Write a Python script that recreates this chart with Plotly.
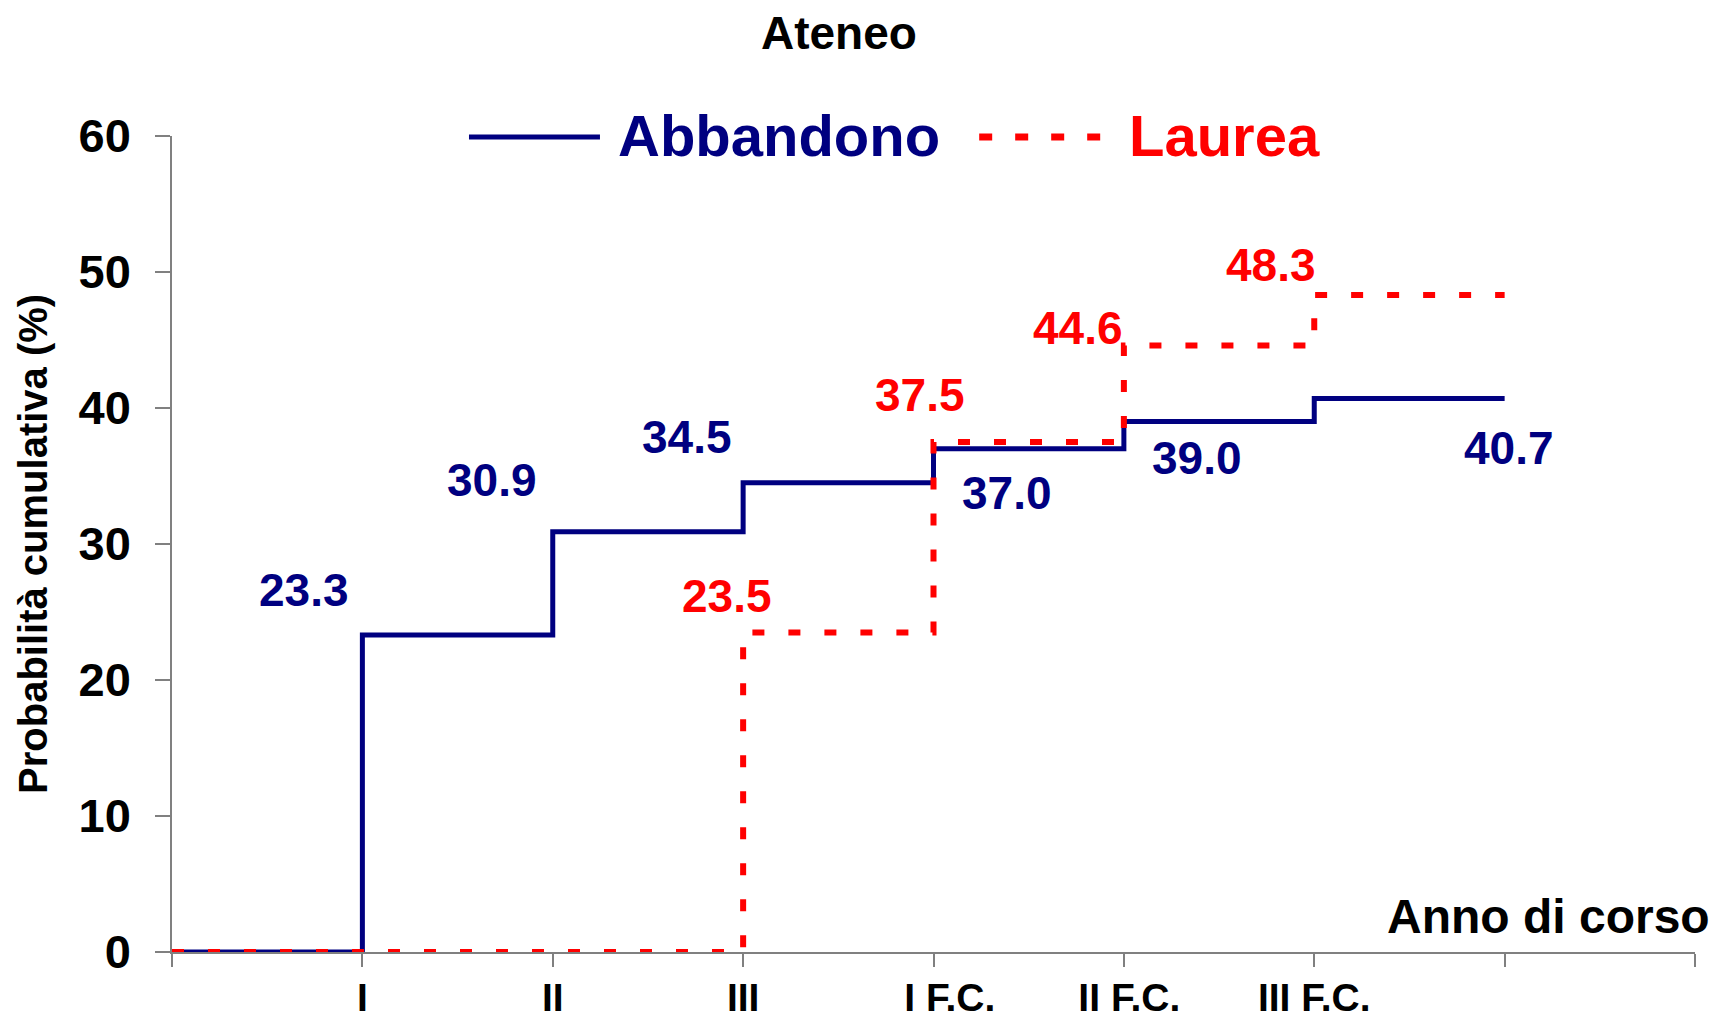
import plotly.graph_objs as go

# Data
anni = ["I", "II", "III", "\u00a0\u00a0\u00a0I F.C.", "\u00a0II F.C.", "III F.C."]
abbandono = [0, 23.3, 30.9, 34.5, 37.0, 39.0, 40.7]
laurea = [0, 0, 0, 23.5, 37.5, 44.6, 48.3]

BLUE = "#000080"
RED = "#FF0000"
FONT = "Liberation Sans, Arial, sans-serif"
AXIS = "#808080"

# step positions: value k holds from k to k+1
x_steps = list(range(len(abbandono) + 1))

# label offsets in px from the start of each step (skip first, it's 0)
abb_shift = [(-58, 45), (-61, 52), (-56, 46), (73, -44), (73, -36), (195, -50)]
lau_shift = [(-16, 36), (-14, 47), (-46, 17), (-43, 30)]

fig = go.Figure()

fig.add_trace(go.Scatter(
    x=x_steps,
    y=abbandono + [abbandono[-1]],
    mode="lines",
    line=dict(color=BLUE, width=5, shape="hv"),
    name="Abbandono",
))

fig.add_trace(go.Scatter(
    x=x_steps,
    y=laurea + [laurea[-1]],
    mode="lines",
    line=dict(color=RED, width=6, shape="hv", dash="12px,24px"),
    name="Laurea",
))

# value labels
for i, (v, (dx, dy)) in enumerate(zip(abbandono[1:], abb_shift), start=1):
    fig.add_annotation(x=i, y=v, text=f"{v:.1f}", showarrow=False,
                       xshift=dx, yshift=dy,
                       font=dict(family=FONT, size=46, color=BLUE, weight="bold"))

lau_vals = [v for v in laurea if v > 0]
first = len(laurea) - len(lau_vals)
for i, (v, (dx, dy)) in enumerate(zip(lau_vals, lau_shift), start=first):
    fig.add_annotation(x=i, y=v, text=f"{v:.1f}", showarrow=False,
                       xshift=dx, yshift=dy,
                       font=dict(family=FONT, size=46, color=RED, weight="bold"))

# hand-made legend (long line samples like the original)
fig.add_shape(type="line", xref="paper", yref="paper",
              x0=0.195, x1=0.281, y0=0.9988, y1=0.9988,
              line=dict(color=BLUE, width=5))
fig.add_shape(type="line", xref="paper", yref="paper",
              x0=0.530, x1=0.611, y0=0.9988, y1=0.9988,
              line=dict(color=RED, width=7, dash="13px,23px"))
fig.add_annotation(xref="paper", yref="paper", x=0.2915, y=1.001,
                   xanchor="left", yanchor="middle", showarrow=False,
                   text="Abbandono",
                   font=dict(family=FONT, size=58, color=BLUE, weight="bold"))
fig.add_annotation(xref="paper", yref="paper", x=0.627, y=1.001,
                   xanchor="left", yanchor="middle", showarrow=False,
                   text="Laurea",
                   font=dict(family=FONT, size=58, color=RED, weight="bold"))

# axis titles
fig.add_annotation(xref="paper", yref="paper", x=1.011, y=0.043,
                   xanchor="right", yanchor="middle", showarrow=False,
                   text="Anno di corso",
                   font=dict(family=FONT, size=48, color="black", weight="bold"))
fig.add_annotation(xref="paper", yref="paper", x=-0.0913, y=0.5,
                   xanchor="center", yanchor="middle", showarrow=False,
                   textangle=-90, text="Probabilità cumulativa (%)",
                   font=dict(family=FONT, size=40, color="black", weight="bold"))

fig.update_layout(
    width=1719,
    height=1019,
    margin=dict(l=172, r=24, t=136, b=67),
    plot_bgcolor="white",
    paper_bgcolor="white",
    showlegend=False,
    title=dict(text="Ateneo", x=0.488, y=0.968, xref="container", yref="container",
               xanchor="center", yanchor="middle",
               font=dict(family=FONT, size=46, color="black", weight="bold")),
    xaxis=dict(
        range=[0, 8],
        tickvals=list(range(9)),
        ticktext=[""] + anni + ["", ""],
        ticks="outside", ticklen=13, tickcolor=AXIS, tickwidth=1.5,
        showline=True, linecolor=AXIS, linewidth=1.5,
        showgrid=False, zeroline=False, automargin=False,
        ticklabelstandoff=-3,
        tickfont=dict(family=FONT, size=39, color="black", weight="bold"),
    ),
    yaxis=dict(
        range=[0, 60],
        dtick=10,
        ticks="outside", ticklen=15, tickcolor=AXIS, tickwidth=1.5,
        showline=True, linecolor=AXIS, linewidth=1.5,
        showgrid=False, zeroline=False, automargin=False,
        ticklabelstandoff=15,
        tickfont=dict(family=FONT, size=47, color="black", weight="bold"),
    ),
)

# drop the default page margin so the figure sits at the window origin
fig.write_html("out.html", config={"displayModeBar": False},
               post_script="document.body.style.margin='0';")
